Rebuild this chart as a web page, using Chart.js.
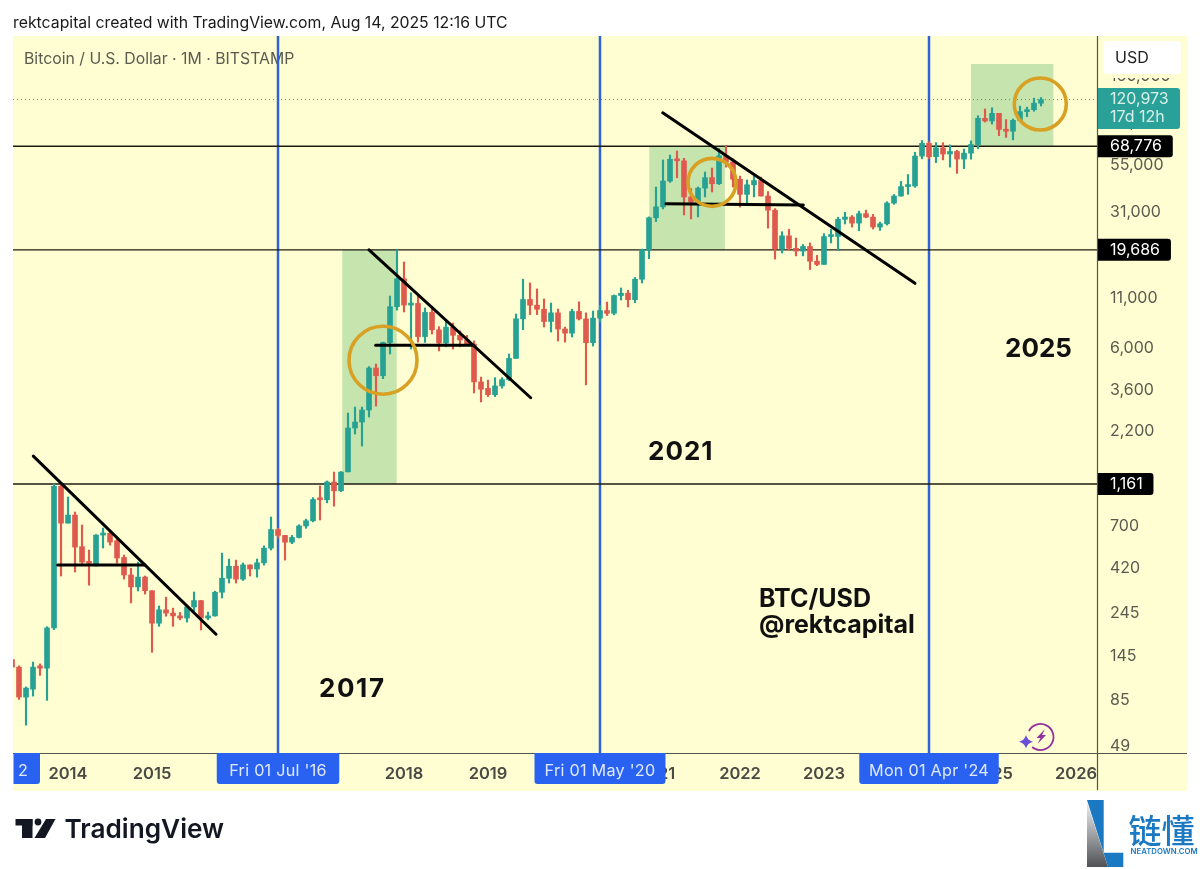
<!DOCTYPE html>
<html>
<head>
<meta charset="utf-8">
<title>BTC/USD</title>
<style>
  body { margin: 0; background: #fff; }
  canvas { display: block; }
</style>
<script src="https://cdn.jsdelivr.net/npm/chart.js@4"></script>
</head>
<body>
<canvas id="myChart" width="1200" height="869"></canvas>
<script>
const months = [
  '2013-05','2013-06','2013-07','2013-08','2013-09','2013-10','2013-11','2013-12',
  '2014-01','2014-02','2014-03','2014-04','2014-05','2014-06','2014-07','2014-08','2014-09','2014-10','2014-11','2014-12',
  '2015-01','2015-02','2015-03','2015-04','2015-05','2015-06','2015-07','2015-08','2015-09','2015-10','2015-11','2015-12',
  '2016-01','2016-02','2016-03','2016-04','2016-05','2016-06','2016-07','2016-08','2016-09','2016-10','2016-11','2016-12',
  '2017-01','2017-02','2017-03','2017-04','2017-05','2017-06','2017-07','2017-08','2017-09','2017-10','2017-11','2017-12',
  '2018-01','2018-02','2018-03','2018-04','2018-05','2018-06','2018-07','2018-08','2018-09','2018-10','2018-11','2018-12',
  '2019-01','2019-02','2019-03','2019-04','2019-05','2019-06','2019-07','2019-08','2019-09','2019-10','2019-11','2019-12',
  '2020-01','2020-02','2020-03','2020-04','2020-05','2020-06','2020-07','2020-08','2020-09','2020-10','2020-11','2020-12',
  '2021-01','2021-02','2021-03','2021-04','2021-05','2021-06','2021-07','2021-08','2021-09','2021-10','2021-11','2021-12',
  '2022-01','2022-02','2022-03','2022-04','2022-05','2022-06','2022-07','2022-08','2022-09','2022-10','2022-11','2022-12',
  '2023-01','2023-02','2023-03','2023-04','2023-05','2023-06','2023-07','2023-08','2023-09','2023-10','2023-11','2023-12',
  '2024-01','2024-02','2024-03','2024-04','2024-05','2024-06','2024-07','2024-08','2024-09','2024-10','2024-11','2024-12',
  '2025-01','2025-02','2025-03','2025-04','2025-05','2025-06','2025-07','2025-08'
];
const opens = [
  139,127,88.5,97.4,129,125.5,204,1129,
  724,798,545,455,440,627,640,585,478,387,335,377,
  320,216,254,244,236,230,263,284,230,236,314,372,
  430,368,437,416,448,535,670,624,575,609,700,745,
  968,960,1190,1070,1345,2285,2457,2840,4718,4300,6420,9900,
  13860,10100,10300,6900,9240,7490,6385,7730,7010,6625,6300,3990,
  3690,3420,3800,4100,5300,8550,10800,10080,9600,8280,9190,7560,
  7190,9350,8540,6410,8620,9450,9140,11330,11650,10780,13800,19700,
  29000,33100,45200,58800,57700,37300,35000,41500,47100,43800,61300,57000,
  46200,38500,43200,45500,37700,31800,19900,23300,20050,19400,20500,17150,
  16500,23100,23150,28470,29250,27200,30470,29230,25940,26960,34640,37720,
  42280,42580,61130,71290,60670,67490,62680,64620,58970,63330,70290,96450,
  93430,102400,84350,82550,94200,104600,107100,115800
];
const highs = [
  139,129,100,135,132,207,1163,1163,
  993,828,708,523,630,682,660,605,492,420,452,382,
  320,266,296,259,246,269,315,284,247,318,504,469,
  463,447,437,469,550,779,680,624,624,710,760,985,
  1135,1205,1342,1350,2738,2944,2944,4800,4953,6450,11260,19686,
  17000,11700,11400,9750,9950,7780,8325,8130,7400,7000,6550,4230,
  4080,4200,4200,5590,9060,13800,13200,12260,10870,10350,9625,7744,
  9600,10500,9190,9400,10070,10470,11400,12415,12080,14100,19870,29300,
  42050,58300,61900,65000,59500,41300,42050,50400,52900,67000,69000,59100,
  48000,45800,48200,47400,39800,32400,24500,25200,22700,21000,21400,18400,
  23950,25200,29200,31000,29800,31400,31800,30200,27500,35200,38400,45000,
  48900,64000,73800,72800,71900,71900,70000,65600,66500,73500,99500,108000,
  109500,102500,95000,95700,111800,110400,123100,124000
];
const lows = [
  127,86,63,89.5,115,85,200,382,
  724,401,436,342,430,536,555,447,368,276,319,307,
  152,208,235,208,225,219,250,199,225,235,293,351,
  351,362,382,377,436,523,605,463,565,605,680,735,
  752,925,889,1060,1345,2125,1838,2609,2980,4150,5590,9500,
  9290,5935,6455,6430,7115,5800,6100,5935,6100,6200,3490,3130,
  3340,3340,3700,4050,5300,7500,9000,9000,7744,7290,6540,6455,
  6865,8430,3850,6150,8220,8900,8970,10740,9868,10400,13190,17700,
  27700,32300,44500,47000,30000,28600,29300,37300,39600,43300,53500,42050,
  33000,34700,37300,37700,25600,17600,18950,19600,18300,18300,15500,16250,
  16500,21400,19600,26900,25900,24800,29000,25300,24900,26550,34150,37600,
  38500,41900,59100,59100,56500,58400,53500,49600,52500,58900,66800,92200,
  90000,78200,76600,74400,93400,98300,105100,112000
];
const closes = [
  127,88.5,98.6,127,125.5,204,1129,724,
  798,542,452,445,627,640,576,475,387,335,377,320,
  216,254,244,236,230,263,284,230,236,314,372,430,
  368,437,416,448,535,670,624,575,609,700,745,963,
  960,1190,1070,1342,2285,2457,2840,4718,4300,6420,9900,13860,
  10100,10300,6900,9240,7490,6385,7730,7010,6625,6300,3990,3650,
  3420,3800,4100,5300,8550,10800,10080,9600,8280,9190,7560,7190,
  9350,8540,6410,8620,9450,9140,11330,11650,10780,13800,19700,29000,
  33100,45200,58800,57700,37300,35000,41500,47100,43800,61300,56900,46200,
  38500,43200,45500,37700,31800,19900,23300,20050,19400,20500,17150,16500,
  23100,23150,28470,29250,27200,30470,29230,25940,26960,34640,37720,42280,
  42580,61130,71290,60670,67490,62680,64620,58970,63330,70290,96450,93430,
  102400,84350,82550,94200,104600,107100,115800,120973
];

const yearTicks = [2014,2015,2016,2017,2018,2019,2020,2021,2022,2023,2024,2025,2026];
const priceTicks = [49,85,145,245,420,700,2200,3600,6000,11000,31000,55000,92000,160000];
const levels = [1161,19686,68776];
const lastPrice = 120973;
const countdown = '17d 12h';

const cycleDates = [2016.5,2020.333,2024.25];
const cycleTags = ["Fri 01 Jul '16","Fri 01 May '20","Mon 01 Apr '24"];

// [from year, price, to year, price]
const trendLines = [
  [2013.587,1628,2015.762,189],
  [2017.583,19686,2019.508,3295],
  [2021.08,103200,2024.083,13130]
];
const supportLines = [
  [2013.877,436,2014.917,436],
  [2017.663,6207,2018.825,6207],
  [2021.119,34400,2022.754,33800]
];
// [from year, to year, low, high]
const greenBoxes = [
  [2017.265,2017.913,1161,19686],
  [2020.92,2021.82,19686,68776],
  [2024.75,2025.73,68776,186000]
];
const circlePoints = [[2017.75,5180],[2021.667,44500],[2025.575,114700]];
const circleSizes = [34,24,26];

const X_MIN = 2013.345, X_MAX = 2026.25, Y_MIN = 45, Y_MAX = 260900;
const TEAL = '#26a193', RED = '#df5a4e', BLUE = '#2f62d6', TAGBLUE = '#2962f0';
const FONT = 'Inter, "Liberation Sans", sans-serif';

function to_year(m){
  return parseInt(m.slice(0,4)) + (parseInt(m.slice(5)) - 1) / 12;
}

function segment(p, color, width, order){
  return {
    type: 'line',
    data: [{x: p[0], y: p[1]}, {x: p[2], y: p[3]}],
    borderColor: color,
    borderWidth: width,
    borderCapStyle: 'round',
    pointRadius: 0,
    order: order
  };
}

function text(ctx, str, x, y, font, color, align){
  ctx.font = font;
  ctx.fillStyle = color;
  ctx.textAlign = align || 'left';
  ctx.textBaseline = 'middle';
  ctx.fillText(str, x, y);
}

function fmt(v){
  return v.toLocaleString('en-US');
}

const candleColors = closes.map((c, i) => c >= opens[i] ? TEAL : RED);

const datasets = [
  {
    data: months.map((m, i) => ({x: to_year(m), y: [Math.min(opens[i], closes[i]), Math.max(opens[i], closes[i])]})),
    backgroundColor: candleColors,
    barThickness: 5,
    minBarLength: 2,
    grouped: false,
    order: 2
  },
  {
    data: months.map((m, i) => ({x: to_year(m), y: [lows[i], highs[i]]})),
    backgroundColor: candleColors,
    barThickness: 1.5,
    grouped: false,
    order: 3
  }
];
trendLines.forEach(p => datasets.push(segment(p, '#000', 3, 1)));
supportLines.forEach(p => datasets.push(segment(p, '#000', 3, 1)));
levels.forEach(v => datasets.push(segment([X_MIN, v, X_MAX, v], '#1c1c10', 1.4, 5)));
cycleDates.forEach(d => datasets.push(segment([d, Y_MIN, d, Y_MAX], BLUE, 2.5, 6)));
datasets.push(Object.assign(segment([X_MIN, lastPrice, X_MAX, lastPrice], TEAL, 1, 6), {borderDash: [1, 3], borderCapStyle: 'butt'}));
datasets.push({
  type: 'line',
  showLine: false,
  data: circlePoints.map(p => ({x: p[0], y: p[1]})),
  pointRadius: circleSizes,
  pointBorderWidth: 3.6,
  pointBorderColor: '#d8a124',
  pointBackgroundColor: 'rgba(0,0,0,0)',
  order: 0
});

function draw_tradingview_logo(ctx){
  ctx.fillStyle = '#131722';
  ctx.fillRect(15.5, 819, 17, 6.5);
  ctx.fillRect(22, 819, 10.5, 19);
  ctx.beginPath();
  ctx.arc(38, 822, 3.4, 0, Math.PI * 2);
  ctx.fill();
  ctx.beginPath();
  ctx.moveTo(46, 819);
  ctx.lineTo(55.5, 819);
  ctx.lineTo(45, 838);
  ctx.lineTo(34.5, 838);
  ctx.closePath();
  ctx.fill();
  text(ctx, 'TradingView', 64.5, 830, '600 26.2px ' + FONT, '#131722');
}

function draw_neatdown_logo(ctx){
  ctx.fillStyle = '#1b78c2';
  ctx.beginPath();
  ctx.moveTo(1087, 800);
  ctx.lineTo(1103.7, 800);
  ctx.lineTo(1103.7, 852.7);
  ctx.lineTo(1123.3, 852.7);
  ctx.lineTo(1123.3, 867);
  ctx.lineTo(1108, 867);
  ctx.closePath();
  ctx.fill();
  const g = ctx.createLinearGradient(0, 808, 0, 867);
  g.addColorStop(0, '#dfe1e3');
  g.addColorStop(1, '#505356');
  ctx.fillStyle = g;
  ctx.beginPath();
  ctx.moveTo(1087, 802);
  ctx.lineTo(1108, 867);
  ctx.lineTo(1087, 867);
  ctx.closePath();
  ctx.fill();
  text(ctx, '链懂', 1128.5, 830, '500 33px "Noto Sans CJK SC"', '#1b78c2');
  text(ctx, 'NEATDOWN.COM', 1130.5, 852, '600 7.8px ' + FONT, '#1b78c2');
}

function draw_bolt_icon(ctx){
  ctx.strokeStyle = '#93309f';
  ctx.lineWidth = 1.8;
  ctx.beginPath();
  ctx.arc(1040.5, 737, 13, -Math.PI * 0.85, Math.PI * 0.72);
  ctx.stroke();
  ctx.fillStyle = '#93309f';
  ctx.beginPath();
  ctx.moveTo(1045, 729);
  ctx.lineTo(1036.5, 738);
  ctx.lineTo(1040.5, 738);
  ctx.lineTo(1037.5, 744);
  ctx.lineTo(1046, 735);
  ctx.lineTo(1042, 735);
  ctx.closePath();
  ctx.fill();
  ctx.fillStyle = '#6a4fd6';
  ctx.beginPath();
  ctx.moveTo(1026, 735);
  ctx.quadraticCurveTo(1027.5, 740.5, 1033, 741.7);
  ctx.quadraticCurveTo(1027.5, 743, 1026, 748.5);
  ctx.quadraticCurveTo(1024.5, 743, 1019, 741.7);
  ctx.quadraticCurveTo(1024.5, 740.5, 1026, 735);
  ctx.fill();
}

function note(ctx, str, x, y, size, spacing){
  ctx.letterSpacing = spacing + 'px';
  text(ctx, str, x, y, '700 ' + size + 'px ' + FONT, '#111');
  ctx.letterSpacing = '0px';
}

const decorations = {
  id: 'decorations',
  beforeDraw(chart){
    const ctx = chart.ctx;
    ctx.save();
    ctx.fillStyle = '#fefed2';
    ctx.fillRect(13, 36, 1174, 755);
    ctx.restore();
  },
  beforeDatasetsDraw(chart){
    const ctx = chart.ctx, x = chart.scales.x, y = chart.scales.y;
    ctx.save();
    ctx.fillStyle = '#c6e4ae';
    greenBoxes.forEach(b => {
      const x0 = x.getPixelForValue(b[0]), x1 = x.getPixelForValue(b[1]);
      const y0 = y.getPixelForValue(b[3]), y1 = y.getPixelForValue(b[2]);
      ctx.fillRect(x0, y0, x1 - x0, y1 - y0);
    });
    text(ctx, 'Bitcoin / U.S. Dollar · 1M · BITSTAMP', 24, 59, '15.8px ' + FONT, '#5a5a50');
    ctx.restore();
  },
  afterDraw(chart){
    const ctx = chart.ctx, x = chart.scales.x, y = chart.scales.y;
    ctx.save();
    text(ctx, 'rektcapital created with TradingView.com, Aug 14, 2025 12:16 UTC', 13, 23, '15.8px ' + FONT, '#1a1a1a');

    // axis lines
    ctx.strokeStyle = '#55554d';
    ctx.lineWidth = 1.2;
    ctx.beginPath();
    ctx.moveTo(13, 753.5);
    ctx.lineTo(1187, 753.5);
    ctx.moveTo(1097.5, 36);
    ctx.lineTo(1097.5, 790);
    ctx.stroke();

    // date tags
    const tagWidths = [122.5, 131, 139.5];
    cycleDates.forEach((d, i) => {
      const px = x.getPixelForValue(d);
      const w = tagWidths[i];
      ctx.fillStyle = TAGBLUE;
      ctx.beginPath();
      ctx.roundRect(px - w / 2, 753, w, 31, [0, 0, 3, 3]);
      ctx.fill();
      ctx.letterSpacing = '0.25px';
      text(ctx, cycleTags[i], px, 771, '16.2px ' + FONT, '#dfe8ff', 'center');
      ctx.letterSpacing = '0px';
    });
    ctx.fillStyle = TAGBLUE;
    ctx.beginPath();
    ctx.roundRect(13.5, 753, 26.5, 31, [0, 0, 3, 0]);
    ctx.fill();
    text(ctx, '2', 23, 771, '16.2px ' + FONT, '#dfe8ff', 'center');

    // mask for the clipped top tick, then USD box
    ctx.fillStyle = '#fefed2';
    ctx.fillRect(1099, 37, 88, 41);
    ctx.fillStyle = '#fff';
    ctx.beginPath();
    ctx.roundRect(1103, 41, 78, 33, 4);
    ctx.fill();
    text(ctx, 'USD', 1115, 58, '16px ' + FONT, '#222');

    // price badges
    const py = y.getPixelForValue(lastPrice);
    ctx.fillStyle = '#2aa198';
    ctx.beginPath();
    ctx.roundRect(1098, 88, 82, 41, [0, 3, 3, 0]);
    ctx.fill();
    text(ctx, fmt(lastPrice), 1110, py - 0.5, '16px ' + FONT, '#d8f0e8');
    text(ctx, countdown, 1110, 117, '16px ' + FONT, '#d8f0e8');
    levels.forEach(v => {
      const ly = y.getPixelForValue(v);
      ctx.font = '500 16px ' + FONT;
      const w = ctx.measureText(fmt(v)).width + 22;
      ctx.fillStyle = '#000';
      ctx.beginPath();
      ctx.roundRect(1098, ly - 11, w, 22, [0, 3, 3, 0]);
      ctx.fill();
      text(ctx, fmt(v), 1110, ly, '16px ' + FONT, '#fff');
    });

    // chart notes
    note(ctx, '2017', 319, 689, 26, 1.6);
    note(ctx, '2021', 648, 452, 26, 1);
    note(ctx, '2025', 1005, 349, 26, 0);
    note(ctx, 'BTC/USD', 759, 599, 25, 0);
    note(ctx, '@rektcapital', 759, 625, 25, 0);

    draw_bolt_icon(ctx);
    draw_tradingview_logo(ctx);
    draw_neatdown_logo(ctx);
    ctx.restore();
  }
};

const c = new Chart(document.getElementById('myChart'), {
  type: 'bar',
  data: {datasets: datasets},
  plugins: [decorations],
  options: {
    responsive: false,
    animation: false,
    layout: {autoPadding: false, padding: {left: 13, top: 36, right: 13, bottom: 79}},
    plugins: {legend: {display: false}, tooltip: {enabled: false}},
    scales: {
      x: {
        type: 'linear',
        offset: false,
        min: X_MIN,
        max: X_MAX,
        grid: {display: false, drawTicks: false},
        border: {display: false},
        afterBuildTicks: s => { s.ticks = yearTicks.map(v => ({value: v})); },
        afterFit: s => { s.height = 37; s.paddingLeft = 0; s.paddingRight = 0; },
        ticks: {
          autoSkip: false,
          maxRotation: 0,
          padding: 11,
          color: '#4a4a45',
          font: {family: FONT, size: 16.5, weight: '600'},
          callback: v => String(v)
        }
      },
      y: {
        type: 'logarithmic',
        position: 'right',
        min: Y_MIN,
        max: Y_MAX,
        grid: {display: false, drawTicks: false},
        border: {display: false},
        afterBuildTicks: s => { s.ticks = priceTicks.map(v => ({value: v})); },
        afterFit: s => { s.width = 90; s.paddingTop = 0; s.paddingBottom = 0; },
        ticks: {
          autoSkip: false,
          padding: 13,
          color: '#5a5a50',
          font: {family: FONT, size: 16},
          callback: v => fmt(v)
        }
      }
    }
  }
});
</script>
</body>
</html>
